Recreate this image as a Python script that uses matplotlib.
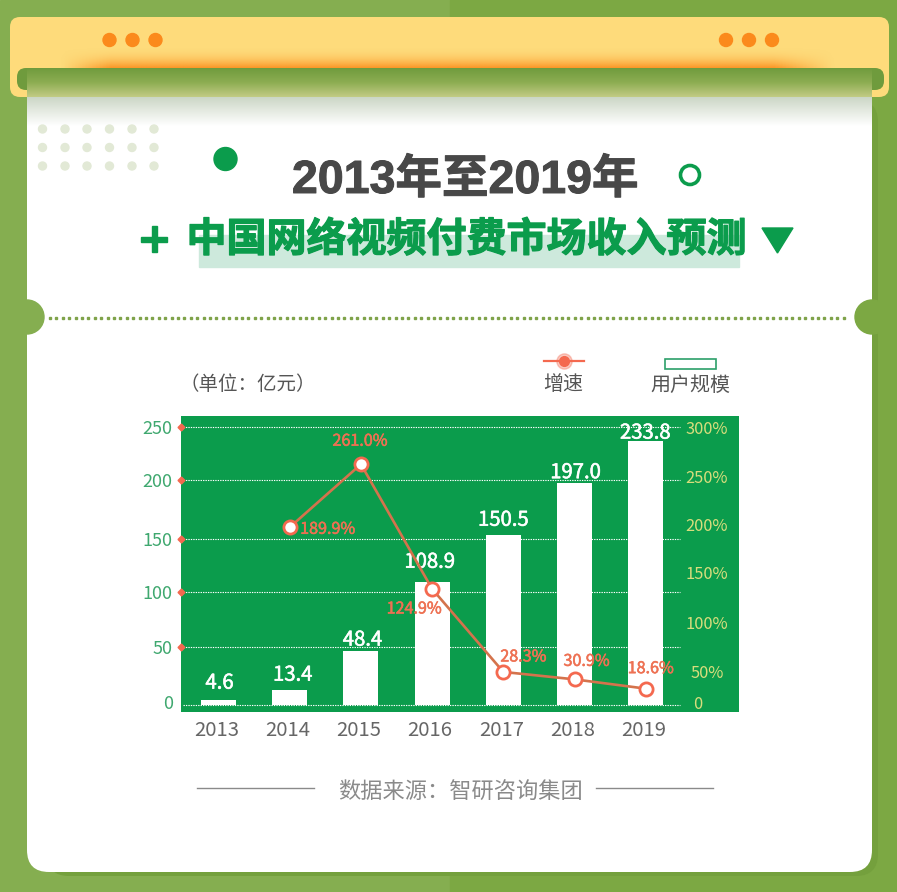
import numpy as np
import matplotlib
matplotlib.use('Agg')
import matplotlib.pyplot as plt
from matplotlib.colors import to_rgb, LinearSegmentedColormap
from matplotlib.patches import Circle, FancyBboxPatch, Polygon, Rectangle
from matplotlib.transforms import ScaledTranslation
import matplotlib.patheffects as pe

plt.rcParams['font.family'] = ['Noto Sans CJK SC', 'DejaVu Sans']

years = ['2013', '2014', '2015', '2016', '2017', '2018', '2019']
revenue = [4.6, 13.4, 48.4, 108.9, 150.5, 197.0, 233.8]
growth_labels = ['189.9%', '261.0%', '124.9%', '28.3%', '30.9%', '18.6%']
# heights the markers sit at in the picture (not quite the labelled numbers)
growth_heights = [192, 260, 125.5, 36, 28, 18]
growth_years = [1, 2, 3, 4, 5, 6]

left_ticks = [0, 51.6, 100, 147, 199, 246]
left_tick_labels = ['0', '50', '100', '150', '200', '250']
right_ticks = [3.5, 37, 88.8, 142.7, 194.5, 247, 300]
right_tick_labels = ['0', '50%', '100%', '150%', '200%', '250%', '300%']

GREEN = '#0b9c4c'
LINE = '#d4734c'
RED = '#f4694f'
BAND_L = '#85ae50'
BAND_R = '#7ca843'
W, H = 897, 892

fig = plt.figure(figsize=(W / 100, H / 100), dpi=100)

# page decoration, drawn in pixel coordinates
bg = fig.add_axes([0, 0, 1, 1])
bg.set_axis_off()


def gradient(x0, x1, y0, y1, stops, z):
    cmap = LinearSegmentedColormap.from_list('g', stops)
    img = np.linspace(0, 1, 256).reshape(-1, 1)
    return bg.imshow(img, extent=(x0, x1, y1, y0), cmap=cmap, aspect='auto', zorder=z)


bg.add_patch(Rectangle((0, 0), 450, H, color=BAND_L, zorder=0))
bg.add_patch(Rectangle((450, 0), W - 450, H, color=BAND_R, zorder=0))
bg.add_patch(FancyBboxPatch((47, 100), 831, 776, boxstyle='round,pad=0,rounding_size=22',
                            fc='#74a03d', ec='none', zorder=1))
bg.add_patch(FancyBboxPatch((27, 60), 845, 812, boxstyle='round,pad=0,rounding_size=22',
                            fc='white', ec='none', zorder=2))

# yellow header with orange glow
bg.add_patch(FancyBboxPatch((10, 17), 879, 80, boxstyle='round,pad=0,rounding_size=10',
                            fc='#fedb7b', ec='none', zorder=3))
ys, xs = np.mgrid[0:1:64j, 0:1:256j]
px = 10 + xs * 879
fade = np.clip((px - 60) / 50, 0, 1) * np.clip((835 - px) / 60, 0, 1)
glow = np.zeros(ys.shape + (4,))
glow[..., :3] = to_rgb('#fb9626')
glow[..., 3] = ys ** 2.2 * fade
bg.imshow(glow, extent=(10, 889, 68, 46), aspect='auto', zorder=4)

# dark roll and the shadow it throws on the card
roll = FancyBboxPatch((17, 68), 867, 22, boxstyle='round,pad=0,rounding_size=9',
                      fc='#6f9b3d', ec='none', zorder=4)
bg.add_patch(roll)
gradient(27, 872, 68, 97, ['#6f9b3d', '#8dad52', '#c2cb85'], 5)
gradient(27, 872, 97, 126, ['#cbd6c6', '#e6ebe2', '#ffffff'], 5)

for x in [109.5, 132.5, 155.5, 726, 749, 772]:
    bg.add_patch(Circle((x, 40), 6.5, color='#fb8a1c', zorder=6))

for x in [42.5, 65, 87, 109.5, 132, 154]:
    for y in [129, 147.5, 166]:
        bg.add_patch(Circle((x, y), 4, color='#e2e9d6', zorder=6))

bg.add_patch(Circle((225.5, 159), 11.5, color=GREEN, zorder=6))
bg.add_patch(Circle((690, 175), 9.5, fc='none', ec=GREEN, lw=2.6, zorder=6))
bg.add_patch(Rectangle((199, 235), 540, 32, color='#cde9dc', zorder=6))
bg.add_patch(Rectangle((141, 236.5), 26, 5, color=GREEN, zorder=6))
bg.add_patch(Rectangle((151.5, 226), 5, 26, color=GREEN, zorder=6))
bg.add_patch(Polygon([(762, 228), (793, 228), (777.5, 253)], color=GREEN, zorder=6))

bg.add_patch(Circle((27, 317), 17, color=BAND_L, zorder=6))
bg.add_patch(Circle((872, 317), 17, color=BAND_R, zorder=6))
bg.plot(np.arange(50, 850, 6.4), [318] * len(np.arange(50, 850, 6.4)), ls='none',
        marker='s', ms=2, color='#7fa34a', zorder=6)

bg.text(465, 181, '2013年至2019年', fontsize=33.5, fontweight='bold', color='#484848',
        family=['Liberation Sans', 'Noto Sans CJK SC'], ha='center', va='center', zorder=7,
        path_effects=[pe.withStroke(linewidth=0.7, foreground='#484848')])
bg.text(466.5, 240, '中国网络视频付费市场收入预测', fontsize=28.8, fontweight='bold', color=GREEN,
        ha='center', va='center', zorder=7,
        path_effects=[pe.withStroke(linewidth=0.9, foreground=GREEN)])

# legend, unit and source
bg.text(248, 385, '（单位：亿元）', fontsize=14, color='#555555', ha='center', va='center', zorder=7)
bg.plot([544, 584], [361, 361], color=RED, lw=1.6, zorder=7)
bg.plot([563.5], [361], marker='o', ms=11, color=RED, alpha=0.35, zorder=7)
bg.plot([563.5], [361], marker='o', ms=7, color=RED, zorder=7)
bg.add_patch(Rectangle((664.5, 359), 51, 10, fc='white', ec='#2ca06a', lw=1.2, zorder=7))
bg.text(563.5, 385, '增速', fontsize=14.4, color='#555555', ha='center', va='center', zorder=7)
bg.text(690, 385, '用户规模', fontsize=14.4, color='#555555', ha='center', va='center', zorder=7)
bg.text(460.5, 792, '数据来源：智研咨询集团', fontsize=16, color='#8a8a8a', ha='center', va='center', zorder=7)
bg.plot([197, 314], [788, 788], color='#8a8a8a', lw=1, zorder=7)
bg.plot([596, 713], [788, 788], color='#8a8a8a', lw=1, zorder=7)

bg.set_xlim(0, W)
bg.set_ylim(H, 0)

# chart panel
ax = fig.add_axes([181 / W, 1 - 712 / H, (739 - 181) / W, (712 - 416) / H])
ax.set_facecolor(GREEN)
for s in ax.spines.values():
    s.set_visible(False)
ax.set_xlim(-0.527, 7.31)
ax.set_ylim(-5.9, 256)

x = np.arange(len(years))
ax.hlines(left_ticks, -0.5, 6.48, color='white', lw=0.8, ls=(0, (1.2, 1)), zorder=1)
ax.bar(x, revenue, width=0.49, color='white', zorder=2)

value_offsets = [(1, 17), (3, 15), (1.5, 10.5), (-2.5, 20), (0, 15), (1, 10), (-0.5, 8)]
for xi, v, (dx, dy) in zip(x, revenue, value_offsets):
    ax.annotate(f'{v:.1f}', (xi, v), xytext=(dx * 0.72, dy * 0.72), textcoords='offset points',
                ha='center', va='center', fontsize=14.6, color='white', zorder=3,
                path_effects=[pe.withStroke(linewidth=0.4, foreground='white')])

ax.set_xticks(x, years)
ax.set_yticks(left_ticks, left_tick_labels)
ax.tick_params(axis='x', length=0, pad=6, labelsize=14.6, labelcolor='#666666')
ax.tick_params(axis='y', length=0, pad=6, labelsize=13, labelcolor='#3fa86f')
shift = ScaledTranslation(-2 / 100, 0, fig.dpi_scale_trans)
for lab in ax.get_xticklabels():
    lab.set_transform(lab.get_transform() + shift)
ax.get_yticklabels()[0].set_transform(ax.get_yticklabels()[0].get_transform()
                                      + ScaledTranslation(0, 3 / 100, fig.dpi_scale_trans))
ax.plot([-0.527] * 5, left_ticks[1:], ls='none', marker='D', ms=3.5, color=RED,
        clip_on=False, zorder=5)

# growth line on its own axis
ax2 = ax.twinx()
for s in ax2.spines.values():
    s.set_visible(False)
ax2.set_ylim(-7.2, 312)
ax2.set_yticks(right_ticks, right_tick_labels)
ax2.tick_params(axis='y', length=0, pad=-23, labelsize=11.8, labelcolor='#d8dd7c')
for lab in ax2.get_yticklabels():
    lab.set_ha('center')
ax2.get_yticklabels()[0].set_transform(ax2.get_yticklabels()[0].get_transform()
                                       + ScaledTranslation(-9 / 100, 0, fig.dpi_scale_trans))
ax2.plot(growth_years, growth_heights, color=LINE, lw=1.9, marker='o', ms=9.5, mfc='white',
         mec=RED, mew=2, zorder=4)

label_offsets = [(38, -2), (-1, 23), (-18, -20), (20, 15), (12, 18), (5, 20)]
for xi, h, t, (dx, dy) in zip(growth_years, growth_heights, growth_labels, label_offsets):
    ax2.annotate(t, (xi, h), xytext=(dx * 0.72, dy * 0.72), textcoords='offset points',
                 ha='center', va='center', fontsize=11.6, color='#ee7153', zorder=6,
                 path_effects=[pe.withStroke(linewidth=0.4, foreground='#ee7153')])

fig.savefig('out.png', dpi=100)
